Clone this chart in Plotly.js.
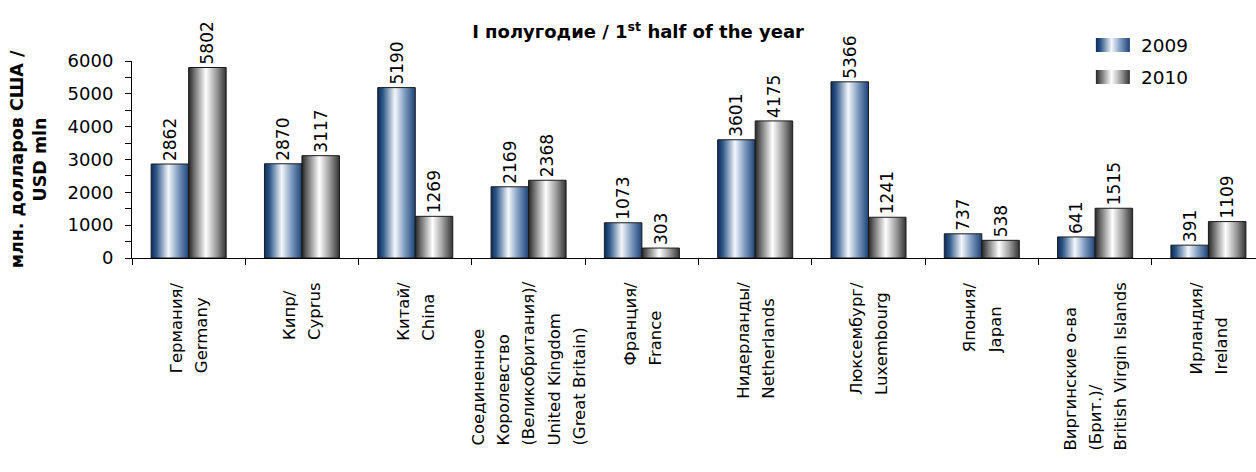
<!DOCTYPE html>
<html>
<head>
<meta charset="utf-8">
<script src="https://cdn.plot.ly/plotly-3.0.1.min.js"></script>
<style>
  html, body { margin: 0; padding: 0; background: #ffffff; }
  #chart { width: 1256px; height: 472px; }
</style>
</head>
<body>
<div id="chart"></div>
<script>
// Country labels (Russian / English)
const categories = [
  'Германия/<br>Germany',
  'Кипр/<br>Cyprus',
  'Китай/<br>China',
  'Соединенное<br>Королевство<br>(Великобритания)/<br>United Kingdom<br>(Great Britain)',
  'Франция/<br>France',
  'Нидерланды/<br>Netherlands',
  'Люксембург/<br>Luxembourg',
  'Япония/<br>Japan',
  'Виргинские о-ва<br>(Брит.)/<br>British Virgin Islands',
  'Ирландия/<br>Ireland'
];

// USD mln, 1st half of the year
const values2009 = [2862, 2870, 5190, 2169, 1073, 3601, 5366, 737, 641, 391];
const values2010 = [5802, 3117, 1269, 2368, 303, 4175, 1241, 538, 1515, 1109];

const seriesNames = ['2009', '2010'];
const yTickValues = [0, 1000, 2000, 3000, 4000, 5000, 6000];

const chartTitle = '<b>I полугодие / 1<sup>st</sup> half of the year</b>';
const yTitle = '<b>млн. долларов США /<br>USD mln</b>';

// Horizontal "cylinder" shading for each series
const gradients = [
  { id: 'grad2009', stops: [[0, '#0b2c5e'], [0.14, '#2f5889'], [0.46, '#f4f7fb'], [0.72, '#7f9cc0'], [1, '#1c4277']] },
  { id: 'grad2010', stops: [[0, '#262626'], [0.14, '#6a6a6a'], [0.46, '#ffffff'], [0.72, '#a3a3a3'], [1, '#333333']] }
];
const flatColors = ['#2f5889', '#8a8a8a'];

const FONT = 'DejaVu Sans, Verdana, sans-serif';
const LABEL_SIZE = 16.5;
const LABEL_PITCH_EM = 1.52;   // line spacing of the country labels
const xIdx = categories.map((_, i) => i);

function barTrace(name, values, k) {
  return {
    type: 'bar',
    name: name,
    x: xIdx,
    y: values,
    text: values.map(String),
    texttemplate: '%{text}',
    textposition: 'outside',
    textangle: -90,
    constraintext: 'none',
    cliponaxis: false,
    textfont: { family: FONT, size: 17, color: '#000' },
    marker: { color: flatColors[k], line: { color: '#1a1a1a', width: 1 } },
    legendgroup: 'g' + k,
    hoverinfo: 'skip'
  };
}

const data = [
  barTrace(seriesNames[0], values2009, 0),
  barTrace(seriesNames[1], values2010, 1)
];

const labelAnnotations = categories.map((c, i) => ({
  xref: 'x', yref: 'paper',
  x: i, y: 0,
  xanchor: 'center', yanchor: 'top',
  yshift: -22,
  text: c,
  textangle: -90,
  align: 'left',
  showarrow: false,
  font: { family: FONT, size: LABEL_SIZE, color: '#000' }
}));

const layout = {
  width: 1256,
  height: 472,
  paper_bgcolor: '#ffffff',
  plot_bgcolor: '#ffffff',
  font: { family: FONT, size: 17, color: '#000' },
  margin: { l: 132, r: 0, t: 61, b: 214, pad: 0 },
  barmode: 'group',
  bargap: 0.338,
  bargroupgap: 0,
  title: {
    text: chartTitle,
    font: { family: FONT, size: 18, color: '#000' },
    xref: 'container', yref: 'container',
    x: 0.508, xanchor: 'center',
    y: 0.932, yanchor: 'middle'
  },
  xaxis: {
    type: 'linear',
    range: [-0.5, 9.42],
    showline: true, linecolor: '#000', linewidth: 1,
    ticks: 'outside', ticklen: 6, tickcolor: '#000', tickwidth: 1,
    tickmode: 'linear', tick0: -0.5, dtick: 1,
    showticklabels: false,
    showgrid: false, zeroline: false,
    fixedrange: true
  },
  yaxis: {
    range: [0, 6000],
    tickmode: 'array', tickvals: yTickValues,
    ticks: 'outside', ticklen: 6, tickcolor: '#000', tickwidth: 1,
    ticklabelstandoff: 8,
    minor: { dtick: 500, tick0: 0, ticks: 'outside', ticklen: 6, tickcolor: '#000', showgrid: false },
    showline: true, linecolor: '#000', linewidth: 1,
    showgrid: false, zeroline: false,
    tickfont: { family: FONT, size: 18, color: '#000' },
    title: { text: yTitle, font: { family: FONT, size: 17.5, color: '#000' }, standoff: 16 },
    fixedrange: true
  },
  showlegend: true,
  legend: {
    x: 0.862, y: 1.175, xanchor: 'left', yanchor: 'top',
    font: { family: FONT, size: 18.5, color: '#000' },
    traceorder: 'grouped',
    tracegroupgap: 5,
    bgcolor: 'rgba(0,0,0,0)'
  },
  annotations: labelAnnotations
};

// Looser line spacing for the multi-line country labels, keeping each block centred
function spreadLabelLines(gd) {
  gd.querySelectorAll('.annotation-text').forEach(t => {
    const lines = t.querySelectorAll('tspan.line');
    const n = lines.length;
    if (n < 2) return;
    const shift = (n - 1) * (LABEL_PITCH_EM - 1.3) / 2;
    lines.forEach((ln, i) => {
      ln.setAttribute('dy', (i * LABEL_PITCH_EM - shift).toFixed(3) + 'em');
    });
  });
}

function applyGradients(gd) {
  const svg = gd.querySelector('svg.main-svg');
  const NS = 'http://www.w3.org/2000/svg';
  let defs = svg.querySelector('defs');
  if (!defs) { defs = document.createElementNS(NS, 'defs'); svg.insertBefore(defs, svg.firstChild); }
  gradients.forEach(g => {
    if (document.getElementById(g.id)) return;
    const lg = document.createElementNS(NS, 'linearGradient');
    lg.setAttribute('id', g.id);
    lg.setAttribute('x1', '0'); lg.setAttribute('y1', '0');
    lg.setAttribute('x2', '1'); lg.setAttribute('y2', '0');
    g.stops.forEach(s => {
      const st = document.createElementNS(NS, 'stop');
      st.setAttribute('offset', s[0]);
      st.setAttribute('stop-color', s[1]);
      lg.appendChild(st);
    });
    defs.appendChild(lg);
  });
  gd.querySelectorAll('.barlayer .trace.bars').forEach((tr, k) => {
    tr.querySelectorAll('.point path').forEach(p => { p.style.fill = 'url(#' + gradients[k].id + ')'; });
  });
  // wide legend swatches, allowed to extend past the legend's clip box
  gd.querySelectorAll('.legend .scrollbox').forEach(sb => sb.removeAttribute('clip-path'));
  gd.querySelectorAll('.legend .traces').forEach((tr, k) => {
    tr.querySelectorAll('.legendpoints path').forEach(p => {
      p.setAttribute('d', 'M-25,7H9V-7H-25Z');
      p.style.fill = 'url(#' + gradients[k].id + ')';
      p.style.stroke = 'none';
    });
  });
}

Plotly.newPlot('chart', data, layout, { displayModeBar: false, staticPlot: true })
  .then(gd => { applyGradients(gd); spreadLabelLines(gd); });
</script>
</body>
</html>
